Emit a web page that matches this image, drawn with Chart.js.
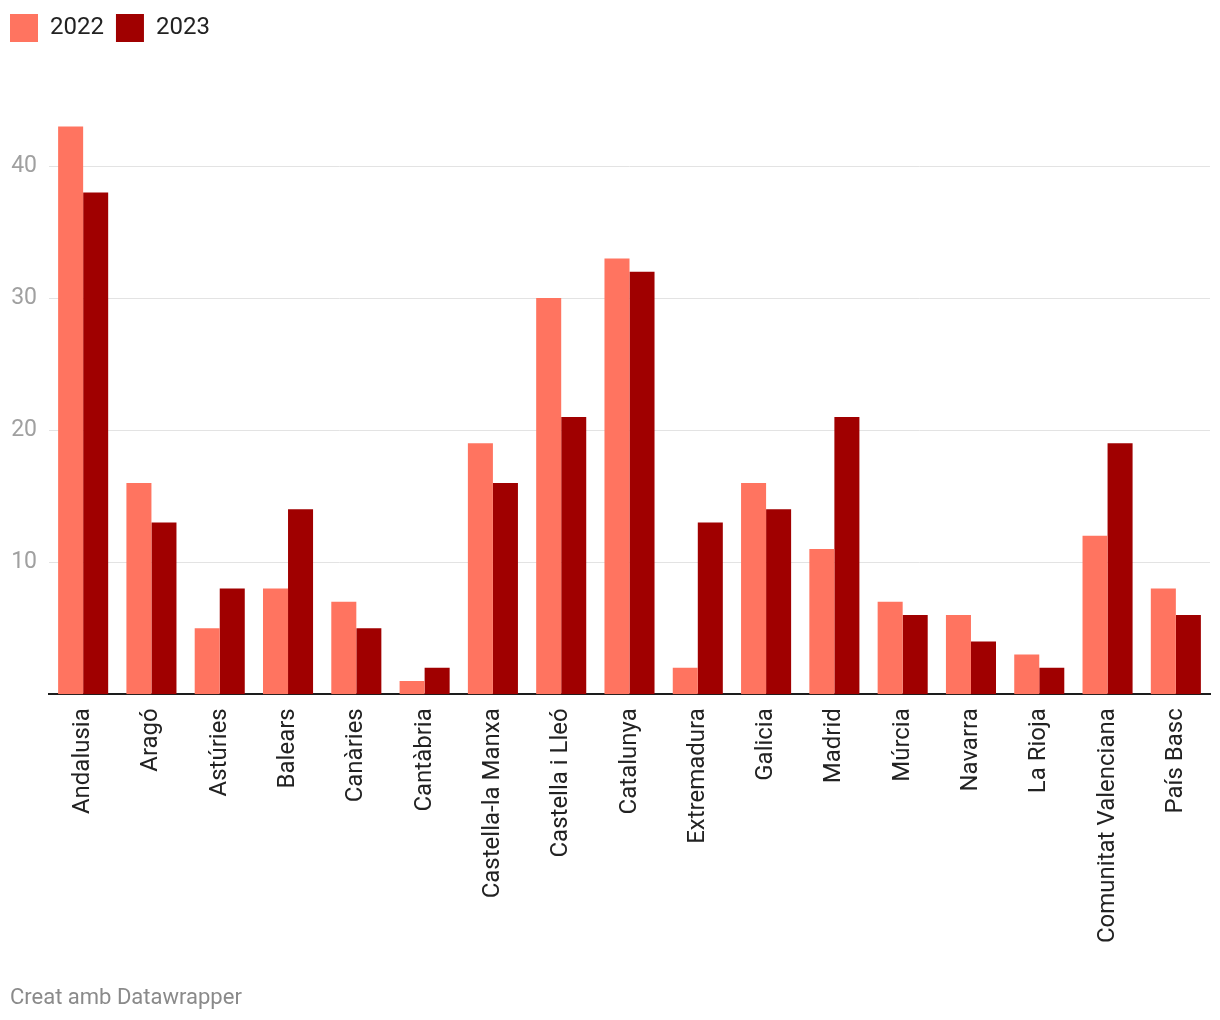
<!DOCTYPE html>
<html>
<head>
<meta charset="utf-8">
<script src="https://cdn.jsdelivr.net/npm/chart.js@4/dist/chart.umd.min.js"></script>
<style>
  html, body { margin: 0; padding: 0; background: #fff; }
  #wrap { position: absolute; left: 0; top: 0; width: 1220px; height: 1020px; }
  #credit { position: absolute; left: 10px; top: 984px; font-family: Roboto, sans-serif; font-size: 22px; color: #8a8a8a; }
</style>
</head>
<body>
<div id="wrap"><canvas id="c"></canvas></div>
<div id="credit">Creat amb Datawrapper</div>
<script>
const categories = ["Andalusia", "Aragó", "Astúries", "Balears", "Canàries", "Cantàbria", "Castella-la Manxa", "Castella i Lleó", "Catalunya", "Extremadura", "Galicia", "Madrid", "Múrcia", "Navarra", "La Rioja", "Comunitat Valenciana", "País Basc"];
const values2022 = [43, 16, 5, 8, 7, 1, 19, 30, 33, 2, 16, 11, 7, 6, 3, 12, 8];
const values2023 = [38, 13, 8, 14, 5, 2, 16, 21, 32, 13, 14, 21, 6, 4, 2, 19, 6];
const seriesLabels = ["2022", "2023"];
const yTicks = [10, 20, 30, 40];

Chart.defaults.font.family = "Roboto, sans-serif";

const legendSpacer = {
  id: 'legendSpacer',
  beforeInit(chart) {
    const origFit = chart.legend.fit;
    chart.legend.fit = function () {
      origFit.bind(chart.legend)();
      this.height += 48;
    };
  }
};

new Chart(document.getElementById('c'), {
  type: 'bar',
  plugins: [legendSpacer],
  data: {
    labels: categories,
    datasets: [
      { label: seriesLabels[0], data: values2022, backgroundColor: '#ff7460', categoryPercentage: 0.733, barPercentage: 1.0 },
      { label: seriesLabels[1], data: values2023, backgroundColor: '#a00000', categoryPercentage: 0.733, barPercentage: 1.0 }
    ]
  },
  options: {
    responsive: true,
    maintainAspectRatio: false,
    animation: false,
    layout: { padding: { left: -2, right: 10, top: 2, bottom: 63 } },
    plugins: {
      legend: {
        position: 'top', align: 'start',
        labels: { boxWidth: 28, boxHeight: 28, padding: 12, color: '#222', font: { size: 24 } }
      },
      tooltip: { enabled: false }
    },
    scales: {
      x: {
        grid: { display: false, drawTicks: false },
        border: { display: true, color: '#1d1d1d', width: 2 },
        ticks: { maxRotation: 90, minRotation: 90, autoSkip: false, color: '#222', font: { size: 24 }, padding: 14 }
      },
      y: {
        min: 0, max: 45,
        afterBuildTicks: s => { s.ticks = yTicks.map(v => ({ value: v })); },
        afterFit: s => { s.width = 51; },
        grid: { color: '#e3e3e3', lineWidth: 1, drawTicks: false },
        border: { display: false },
        ticks: { color: '#a0a0a0', font: { size: 23 }, padding: 12 }
      }
    }
  }
});
</script>
</body>
</html>
